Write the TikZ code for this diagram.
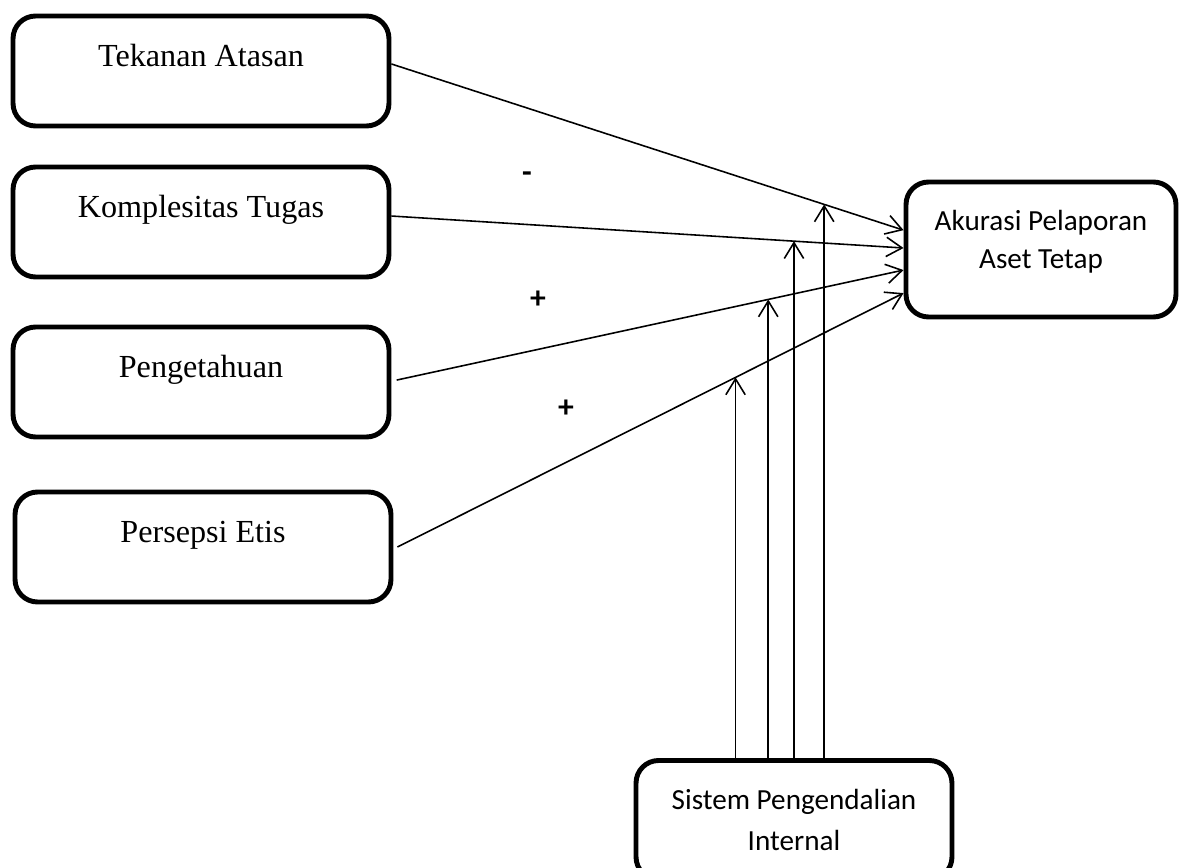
\documentclass[tikz,border=0pt]{standalone}
\usepackage{fontspec}
\setmainfont{Liberation Serif}
\newfontfamily\calibri{Carlito}
\usetikzlibrary{arrows.meta,positioning}

\begin{document}
\begin{tikzpicture}[x=0.02cm,y=-0.02cm]
	\tikzset{var/.style={draw,line width=2.8pt,rounded corners=0.45cm,minimum width=7.52cm,minimum height=2.2cm,font=\fontsize{18.3}{21}\selectfont,text height=0.42cm,text depth=0.6cm}}
	\tikzset{dep/.style={draw,line width=2.8pt,rounded corners=0.45cm,align=center,font=\calibri\fontsize{16.6}{21.6}\selectfont}}
	\tikzset{arr/.style={line width=0.9pt,-{Straight Barb[length=9pt,width=11pt]}}}
	\tikzset{sign/.style={font=\calibri\bfseries\fontsize{18}{20}\selectfont}}
	%\tikzset{every node/.style={outer sep=0pt}}
	\useasboundingbox (0,0) rectangle (1180,868);
	\node[var] (ta) at (201,71) {Tekanan Atasan};
	\node[var] (kt) at (201,222) {Komplesitas Tugas};
	\node[var] (pg) at (201,382) {Pengetahuan};
	\node[var] (pe) at (203,547) {Persepsi Etis};
	\node[dep,minimum width=5.4cm,minimum height=2.7cm] (ak) at (1041,249.5) {\raisebox{4.5pt}[\height][\depth]{\begin{tabular}{@{}c@{}}Akurasi Pelaporan\\Aset Tetap\end{tabular}}};
	\node[dep,minimum width=6.32cm,minimum height=2.38cm,font=\calibri\fontsize{16.6}{23.5}\selectfont] (si) at (794,820) {Sistem Pengendalian\\Internal};
	\node[sign] (min) at (527,177) {-};
	\node[sign] (plA) at (538,300) {+};
	\node[sign] (plB) at (566,409) {+};
	\draw[arr] ([yshift=4pt]ta.east) -- coordinate[pos=0.845] (m1) ([yshift=11pt]ak.west);
	\draw[arr] ([yshift=3.4pt]kt.east) -- coordinate[pos=0.786] (m2) ([yshift=0.85pt]ak.west);
	\draw[arr] ([xshift=3pt,yshift=1.1pt]pg.east) -- coordinate[pos=0.733] (m3) ([yshift=-11.7pt]ak.west);
	\draw[arr] ([xshift=2.3pt]pe.east) -- coordinate[pos=0.668] (m4) ([yshift=-24.8pt]ak.west);
	\draw[arr] (m1 |- si.north) -- (m1);
	\draw[arr] (m2 |- si.north) -- (m2);
	\draw[arr] (m3 |- si.north) -- (m3);
	\draw[arr] (m4 |- si.north) -- (m4);
\end{tikzpicture}
\end{document}
